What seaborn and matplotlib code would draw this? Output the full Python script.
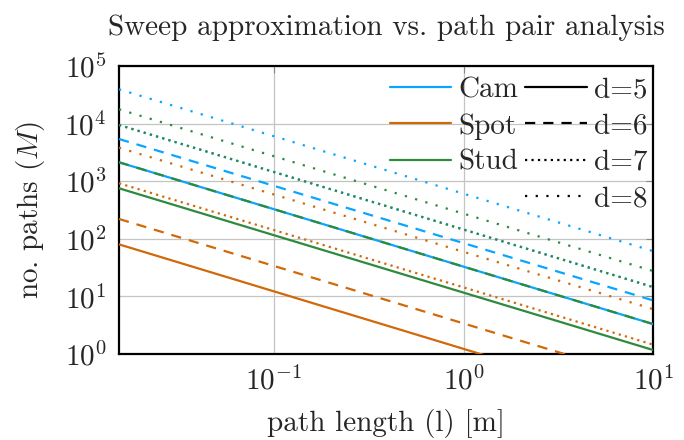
import numpy as np
import pandas as pd
import matplotlib
matplotlib.use("Agg")
import matplotlib.pyplot as plt
from matplotlib.lines import Line2D
import seaborn as sns

# ---- data (lines are straight on log-log axes) ----
path_length = [0.01528, 10.0]           # l [m], left and right ends of the plotted range
datasets = ["Cam", "Spot", "Stud"]
depths = ["d=5", "d=6", "d=7", "d=8"]

cam_d5 = [2130, 3.3]
cam_d6 = [5400, 8.5]
cam_d7 = [9460, 14.5]
cam_d8 = [39400, 61]

spot_d5 = [80, 0.123]
spot_d6 = [221, 0.34]
spot_d7 = [920, 1.45]
spot_d8 = [3820, 6.0]

stud_d5 = [753, 1.17]
stud_d6 = [2130, 3.3]
stud_d7 = [9460, 14.5]
stud_d8 = [17700, 27.5]

series = {
    ("Cam", "d=5"): cam_d5, ("Cam", "d=6"): cam_d6, ("Cam", "d=7"): cam_d7, ("Cam", "d=8"): cam_d8,
    ("Spot", "d=5"): spot_d5, ("Spot", "d=6"): spot_d6, ("Spot", "d=7"): spot_d7, ("Spot", "d=8"): spot_d8,
    ("Stud", "d=5"): stud_d5, ("Stud", "d=6"): stud_d6, ("Stud", "d=7"): stud_d7, ("Stud", "d=8"): stud_d8,
}
rows = []
for (ds, d), vals in series.items():
    for l, m in zip(path_length, vals):
        rows.append({"dataset": ds, "d": d, "l": l, "M": m})
df = pd.DataFrame(rows)

# ---- style ----
sns.set_style("white")
plt.rcParams["font.family"] = "serif"
plt.rcParams["font.serif"] = ["cmr10", "DejaVu Serif"]
plt.rcParams["mathtext.fontset"] = "cm"
plt.rcParams["axes.formatter.use_mathtext"] = True
plt.rcParams["axes.unicode_minus"] = False

FS = 21
colors = {"Cam": "#0aa5ff", "Spot": "#d0690a", "Stud": "#2e8b3e"}
dashes = {"d=5": "", "d=6": (4.6, 3.6), "d=7": (1.0, 1.9), "d=8": (1.0, 3.8)}

fig = plt.figure(figsize=(6.84, 4.40), dpi=100)
ax = fig.add_axes([0.174, 0.1955, 0.781, 0.6545])

sns.lineplot(data=df, x="l", y="M", hue="dataset", style="d",
             hue_order=datasets, style_order=depths,
             palette=colors, dashes=dashes, linewidth=1.6,
             legend=False, ax=ax, zorder=3)

ax.set_xscale("log")
ax.set_yscale("log")
ax.set_xlim(path_length[0], path_length[1])
ax.set_ylim(1, 1e5)
ax.set_xticks([0.1, 1, 10])
ax.set_yticks([1, 10, 100, 1e3, 1e4, 1e5])
ax.minorticks_off()
ax.grid(True, which="major", color="#c4c4c4", linewidth=0.9)
ax.tick_params(which="major", direction="in", length=5, color="#888888",
               labelsize=FS, pad=9, top=True, right=True)
for s in ax.spines.values():
    s.set_color("black")
    s.set_linewidth(1.6)

ax.set_xlabel("path length (l) [m]", fontsize=FS, va="center")
ax.xaxis.set_label_coords(0.5, -(424 - 354) / 288)
ax.set_ylabel("no. paths ($M$)", fontsize=FS, va="center")
ax.yaxis.set_label_coords(-(119 - 31) / 534, 0.5)
ax.set_title("Sweep approximation vs. path pair analysis", fontsize=FS, pad=22)

# legend: colours in first column, line styles in second
handles = [Line2D([], [], color=colors[ds], lw=1.6) for ds in datasets]
labels = list(datasets)
handles.append(Line2D([], [], color="none", lw=0))
labels.append("")
for d in depths:
    dd = dashes[d]
    ls = "-" if dd == "" else (0, dd)
    handles.append(Line2D([], [], color="black", lw=1.6, linestyle=ls))
    labels.append(d)
leg = ax.legend(handles, labels, ncol=2, loc="upper right",
                bbox_to_anchor=(1.0, 1.0 - 5 / 288), frameon=False,
                fontsize=FS, handlelength=2.1, handletextpad=0.25,
                columnspacing=0.25, labelspacing=0.34,
                borderaxespad=0.1, borderpad=0.1)
leg.set_zorder(5)

fig.savefig("out.png", dpi=100)
